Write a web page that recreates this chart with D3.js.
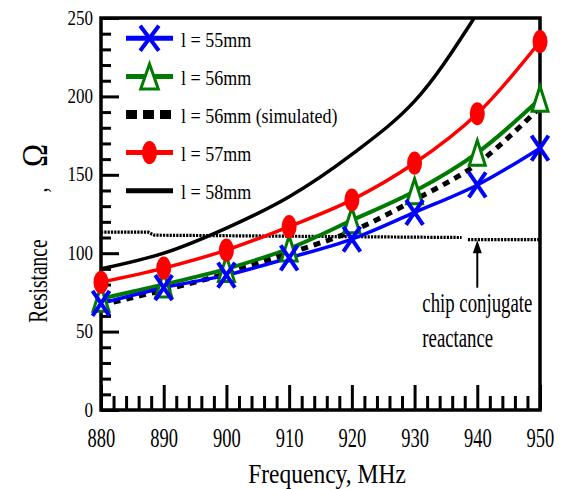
<!DOCTYPE html>
<html>
<head>
<meta charset="utf-8">
<script src="https://cdn.jsdelivr.net/npm/d3@7"></script>
<style>
  body { margin: 0; background: #fff; }
  svg { display: block; }
</style>
</head>
<body>
<div id="chart"></div>
<script>
// data
var freqs = [880, 890, 900, 910, 920, 930, 940, 950];
var r55 = [68, 78, 86, 97, 109, 126, 143.5, 167];
var r56 = [71, 80, 90, 103, 121, 139.5, 164, 198.5];
var r56sim = [67, 76.5, 87, 100, 114, 134, 157, 193];
var r57 = [81.5, 90.5, 102, 117, 134, 157.5, 189, 235];
var r58 = [90, 100, 116, 136, 163, 197, 253, 320];

var chipFreq = [880, 887.5, 888.5, 937.5, null, 938.5, 950];
var chipRes = [113.4, 113.4, 111.5, 110, null, 108.6, 108.6];

var legendLabels = ["l = 55mm", "l = 56mm", "l = 56mm (simulated)", "l = 57mm", "l = 58mm"];
var yMajor = [0, 50, 100, 150, 200, 250];
var xMajor = [880, 890, 900, 910, 920, 930, 940, 950];

var W = 561, H = 489;
var pL = 101, pR = 540, pT = 18, pB = 410;
var serif = "'Liberation Serif', 'Times New Roman', serif";

var x = d3.scaleLinear().domain([880, 950]).range([pL, pR]);
var y = d3.scaleLinear().domain([0, 250]).range([pB, pT]);

var svg = d3.select("#chart").append("svg")
  .attr("width", W).attr("height", H);

svg.append("defs").append("clipPath").attr("id", "plotclip")
  .append("rect")
  .attr("x", pL).attr("y", pT)
  .attr("width", pR - pL).attr("height", pB - pT);

// frame
svg.append("rect")
  .attr("x", pL).attr("y", pT)
  .attr("width", pR - pL).attr("height", pB - pT)
  .attr("fill", "none").attr("stroke", "#000").attr("stroke-width", 3.5);

// y ticks (inward)
var yMinor = d3.range(0, 251, 10).filter(function(d) { return d % 50 != 0; });
var gy = svg.append("g").attr("transform", "translate(" + pL + ",0)");
gy.call(d3.axisLeft(y).tickValues(yMajor).tickSizeInner(-18).tickSizeOuter(0).tickPadding(8).tickFormat(d3.format("d")));
gy.select(".domain").remove();
gy.selectAll(".tick line").attr("stroke", "#000").attr("stroke-width", 3);
gy.selectAll(".tick text")
  .attr("font-family", serif).attr("font-size", 17).attr("fill", "#000")
  .attr("dy", null)
  .attr("transform", "translate(0,6) scale(1,1.25)");

var gy2 = svg.append("g").attr("transform", "translate(" + pL + ",0)");
gy2.call(d3.axisLeft(y).tickValues(yMinor).tickSizeInner(-10).tickSizeOuter(0).tickFormat(""));
gy2.select(".domain").remove();
gy2.selectAll(".tick line").attr("stroke", "#000").attr("stroke-width", 3);

// x ticks (inward)
var xMinor = d3.range(880, 951, 2).filter(function(d) { return d % 10 != 0; });
var gx = svg.append("g").attr("transform", "translate(0," + pB + ")");
gx.call(d3.axisBottom(x).tickValues(xMajor).tickSizeInner(-25).tickSizeOuter(0).tickFormat(d3.format("d")));
gx.select(".domain").remove();
gx.selectAll(".tick line").attr("stroke", "#000").attr("stroke-width", 3);
gx.selectAll(".tick text")
  .attr("font-family", serif).attr("font-size", 18.5).attr("fill", "#000")
  .attr("y", null).attr("dy", null)
  .attr("transform", "translate(0,37) scale(1,1.5)");

var gx2 = svg.append("g").attr("transform", "translate(0," + pB + ")");
gx2.call(d3.axisBottom(x).tickValues(xMinor).tickSizeInner(-14).tickSizeOuter(0).tickFormat(""));
gx2.select(".domain").remove();
gx2.selectAll(".tick line").attr("stroke", "#000").attr("stroke-width", 3);

// axis titles
svg.append("text")
  .attr("transform", "translate(327,483) scale(1,1.15)")
  .attr("text-anchor", "middle")
  .attr("font-family", serif).attr("font-size", 23.5)
  .text("Frequency, MHz");

var yt = svg.append("g").attr("transform", "translate(47,0) rotate(-90)");
yt.append("text")
  .attr("transform", "translate(-281,0) scale(1,1.37)")
  .attr("text-anchor", "middle")
  .attr("font-family", serif).attr("font-size", 19.5)
  .text("Resistance");
yt.append("text")
  .attr("transform", "translate(-190,0) scale(1,1.37)")
  .attr("text-anchor", "middle")
  .attr("font-family", serif).attr("font-size", 19.5)
  .text(",");
yt.append("text")
  .attr("transform", "translate(-155.5,0) scale(1,1.15)")
  .attr("text-anchor", "middle")
  .attr("font-family", serif).attr("font-size", 31)
  .text("\u03A9");

// chip conjugate reactance (dotted)
var chipData = chipFreq.map(function(f, i) { return {f: f, r: chipRes[i]}; });
svg.append("path")
  .datum(chipData)
  .attr("fill", "none").attr("stroke", "#000").attr("stroke-width", 3.2)
  .attr("stroke-dasharray", "2.2,1.1")
  .attr("d", d3.line()
    .defined(function(d) { return d.f != null; })
    .x(function(d) { return x(d.f); })
    .y(function(d) { return y(d.r); }));

// arrow + note
var arrowF = 940;
svg.append("line")
  .attr("x1", x(arrowF)).attr("x2", x(arrowF))
  .attr("y1", y(108.3) + 10).attr("y2", y(78))
  .attr("stroke", "#000").attr("stroke-width", 2);
svg.append("path")
  .attr("d", "M" + x(arrowF) + "," + y(108.3) + " l-4.5,13 l9,0 z")
  .attr("fill", "#000");
svg.append("text")
  .attr("transform", "translate(" + (x(arrowF) - 55) + ",312) scale(1,1.4)")
  .attr("font-family", serif).attr("font-size", 18.8)
  .text("chip conjugate");
svg.append("text")
  .attr("transform", "translate(" + (x(arrowF) - 55) + ",347) scale(1,1.4)")
  .attr("font-family", serif).attr("font-size", 18.8)
  .text("reactance");

// series
function toPts(vals) {
  return freqs.map(function(f, i) { return {f: f, r: vals[i]}; });
}
var line = d3.line()
  .curve(d3.curveCatmullRom)
  .x(function(d) { return x(d.f); })
  .y(function(d) { return y(d.r); });

var series = [
  {name: "58", vals: r58, color: "#000", width: 3.5, dash: null, marker: null},
  {name: "56", vals: r56, color: "#007a00", width: 4, dash: null, marker: "tri"},
  {name: "56sim", vals: r56sim, color: "#000", width: 5, dash: "7,6", marker: null},
  {name: "57", vals: r57, color: "#ff0000", width: 3.5, dash: null, marker: "circ"},
  {name: "55", vals: r55, color: "#0000ff", width: 3.5, dash: null, marker: "x"}
];

var plot = svg.append("g").attr("clip-path", "url(#plotclip)");
series.forEach(function(s) {
  plot.append("path")
    .datum(toPts(s.vals))
    .attr("fill", "none")
    .attr("stroke", s.color)
    .attr("stroke-width", s.width)
    .attr("stroke-dasharray", s.dash)
    .attr("d", line);
});

function drawMarker(g, type, cx, cy, color, big) {
  var k = big ? 1.1 : 1;
  if (type == "x") {
    var hw = 8.5 * k, hh = 12.5;
    g.append("path")
      .attr("d", "M" + (cx - hw) + "," + (cy - hh) + "L" + (cx + hw) + "," + (cy + hh) +
                 "M" + (cx - hw) + "," + (cy + hh) + "L" + (cx + hw) + "," + (cy - hh))
      .attr("stroke", color).attr("stroke-width", 4).attr("fill", "none");
  } else if (type == "circ") {
    g.append("ellipse")
      .attr("cx", cx).attr("cy", cy).attr("rx", 7.5).attr("ry", 11.5)
      .attr("fill", color);
  } else if (type == "tri") {
    var tw = 8 * k, th = 12.5;
    g.append("path")
      .attr("d", "M" + cx + "," + (cy - th) + "L" + (cx + tw) + "," + (cy + th) + "L" + (cx - tw) + "," + (cy + th) + "Z")
      .attr("stroke", color).attr("stroke-width", 3).attr("fill", "#fff")
      .attr("stroke-linejoin", "miter");
  }
}

var markers = svg.append("g");
series.forEach(function(s) {
  if (!s.marker) return;
  toPts(s.vals).forEach(function(d) {
    drawMarker(markers, s.marker, x(d.f), y(d.r), s.color, false);
  });
});

// legend
var legendOrder = [series[4], series[1], series[2], series[3], series[0]];
var legend = svg.append("g");
legendOrder.forEach(function(s, i) {
  var ly = 38.3 + i * 38.1;
  var isSim = s.name == "56sim";
  legend.append("line")
    .attr("x1", 126).attr("x2", 173).attr("y1", ly).attr("y2", ly)
    .attr("stroke", s.color)
    .attr("stroke-width", isSim ? 9 : 5)
    .attr("stroke-dasharray", isSim ? "11,6" : null);
  if (s.marker) drawMarker(legend, s.marker, 149.5, ly, s.color, true);
  legend.append("text")
    .attr("transform", "translate(181," + (ly + 8.5) + ") scale(1,1.2)")
    .attr("font-family", serif).attr("font-size", 18)
    .text(legendLabels[i]);
});
</script>
</body>
</html>
